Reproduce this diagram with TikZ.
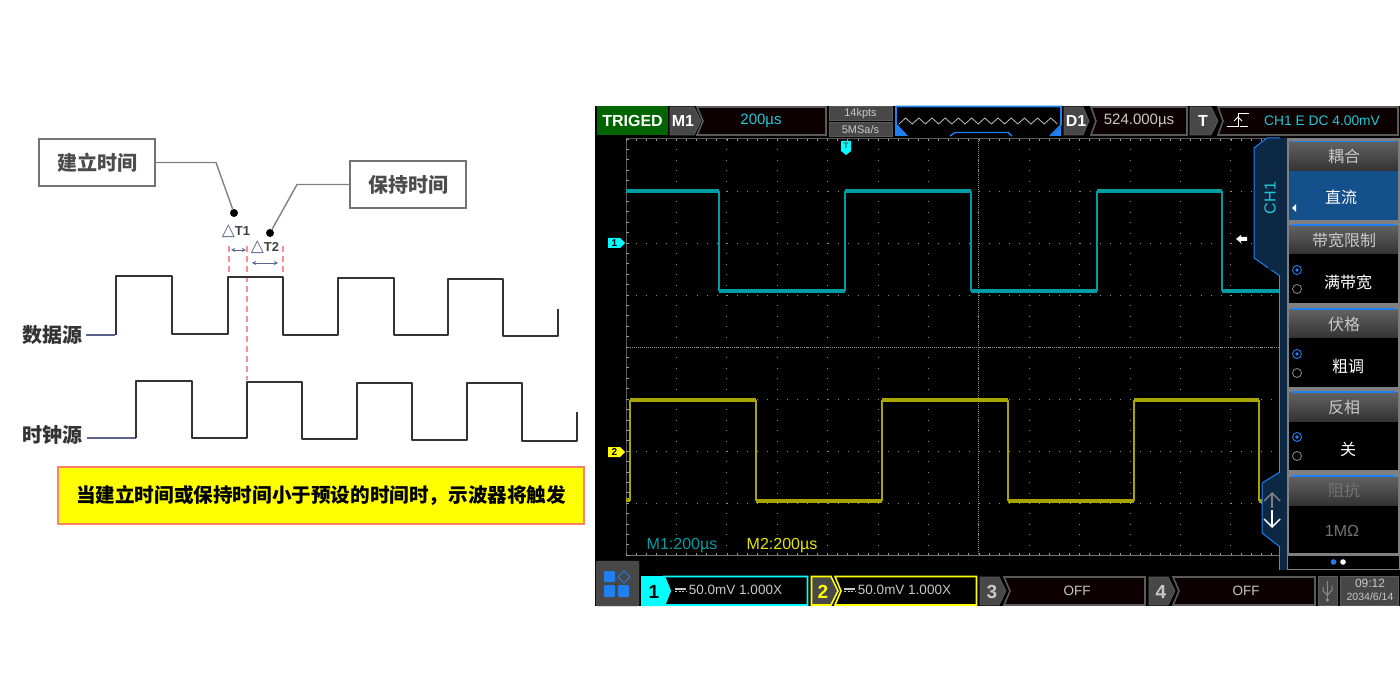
\documentclass[tikz,border=0pt]{standalone}
\usepackage{fontspec}
\setmainfont{Noto Sans CJK SC}
\newfontfamily\latinf{Liberation Sans}
\newfontfamily\symf{DejaVu Sans}
\definecolor{slateb}{HTML}{5A648C}
\definecolor{dashr}{HTML}{FF8C96}
\definecolor{trigg}{HTML}{006400}
\definecolor{tealw}{HTML}{009CA4}
\definecolor{olivew}{HTML}{A8A400}
\definecolor{cyant}{HTML}{20C8D8}
\definecolor{scrc}{HTML}{00FFFF}
\definecolor{scry}{HTML}{FFFF00}
\definecolor{scopeb}{HTML}{2080F0}
\definecolor{navyp}{HTML}{0C2844}
\definecolor{menub}{HTML}{14508C}
\definecolor{framegr}{HTML}{5A5A5A}
\definecolor{lightt}{HTML}{C8C8C8}
\definecolor{tabgr}{HTML}{484848}
\definecolor{noteb}{HTML}{FF8064}
\begin{document}
\begin{tikzpicture}[
        x=1pt, y=-1pt,
        every node/.style={inner sep=0pt, outer sep=0pt},
        lblbox/.style={draw=black!55, line width=1.3pt, fill=white, minimum width=116pt, minimum height=47pt, font=\fontsize{20}{22}\selectfont\bfseries, text=black!70},
        lbl/.style={font=\fontsize{20}{22}\selectfont\bfseries, text=black!80},
        callout/.style={draw=black!50, line width=1.4pt},
        blackdot/.style={circle, fill=black, minimum size=8pt},
        deltat/.style={font=\latinf\fontsize{13}{15}\selectfont\bfseries, text=black!75},
        wave/.style={draw=black!80, line width=1.9pt, line join=round},
        leadw/.style={draw=slateb, line width=1.9pt},
        reddash/.style={draw=dashr, line width=1.5pt, dash pattern=on 6pt off 4pt},
        spanarr/.style={draw=slateb, line width=.9pt, <->, >=stealth},
        gridd/.style={draw=white!55!black, line width=.7pt, dash pattern=on .8pt off 9.28pt},
        gridv/.style={draw=white!55!black, line width=.7pt, dash pattern=on .8pt off 9.6pt},
        tickm/.style={draw=white!60!black, line width=.6pt},
        flatw/.style={line width=3.6pt},
        edgew/.style={line width=1.3pt},
        tabn/.style={fill=tabgr, draw=framegr, line width=.8pt},
        valbox/.style={fill=black!95!red, draw=framegr, line width=1.6pt},
        stxt/.style={font=\latinf\fontsize{13.5}{16}\selectfont, text=lightt},
        ctxt/.style={font=\latinf\fontsize{15}{17}\selectfont, text=cyant},
        tabt/.style={font=\latinf\fontsize{16}{18}\selectfont\bfseries, text=white},
        mhead/.style={top color=black!62, bottom color=black!80, draw=none},
        mtxt/.style={font=\fontsize{16}{18}\selectfont, text=lightt},
        radon/.style={circle, draw=scopeb, line width=.9pt, minimum size=9pt},
        radoff/.style={circle, draw=black!50, line width=.9pt, minimum size=9pt},
    ]
    \useasboundingbox (0,0) rectangle (1400,700);
    \fill[white] (0,0) rectangle (1400,700);
    % left panel
    \node[lblbox](setupbox) at (97,162.5){建立时间};
    \node[lblbox](holdbox) at (408,184.5){保持时间};
    \node[blackdot](setupdot) at (234,213){};
    \node[blackdot](holddot) at (270,233){};
    \draw[callout] (setupbox.east) -- (216,162.5) -- (setupdot);
    \draw[callout] (holdbox.west) -- (297,184.5) -- (holddot);
    \node[deltat](t1lab) at (236,231){\textcolor{slateb}{\symf\fontsize{17}{18}\selectfont △}T1};
    \node[deltat](t2lab) at (265,247){\textcolor{slateb}{\symf\fontsize{17}{18}\selectfont △}T2};
    \draw[reddash] (229,246) -- (229,276);
    \draw[reddash] (247,246) -- (247,380);
    \draw[reddash] (283,246) -- (283,276);
    \coordinate (t1a) at (231,250);
    \coordinate (t1b) at (246,250);
    \coordinate (t2a) at (252,263);
    \coordinate (t2b) at (278,263);
    \draw[spanarr] (t1a) -- (t1b);
    \draw[spanarr] (t2a) -- (t2b);
    \node[lbl](datalab) at (52,335){数据源};
    \node[lbl](clklab) at (52,435){时钟源};
    \coordinate (datas) at (86,335);
    \coordinate (clks) at (87,438);
    \draw[leadw] (datas) -- (115,335);
    \draw[leadw] (clks) -- (136,438);
    \draw[wave] (116,335) -- (116,276) -- (172,276) -- (172,334) -- (228,334) -- (228,277) -- (283,277) -- (283,335) -- (338,335) -- (338,278) -- (394,278) -- (394,335) -- (448,335) -- (448,279) -- (503,279) -- (503,336) -- (558,336) -- (558,309);
    \draw[wave] (136,438) -- (136,381) -- (192,381) -- (192,438) -- (247,438) -- (247,382) -- (302,382) -- (302,439) -- (357,439) -- (357,383) -- (412,383) -- (412,440) -- (467,440) -- (467,383) -- (522,383) -- (522,441) -- (577,441) -- (577,412);
    \node[draw=noteb, line width=1.5pt, fill=scry, minimum width=526pt, minimum height=57pt, font=\fontsize{19.6}{22}\selectfont\bfseries, text=black](notebox) at (321,495.5){当建立时间或保持时间小于预设的时间时，示波器将触发};
    % scope screen
    \fill[black] (595,106) rectangle (1400,606);
    \foreach \k in {1,...,12}{
        \draw[gridv] (626+50.4*\k,139) -- (626+50.4*\k,555);
    }
    \foreach \k in {1,...,7}{
        \draw[gridd] (626,139+52*\k) -- (1280,139+52*\k);
    }
    \draw[draw=black!45, line width=.8pt, dash pattern=on 1pt off 1pt] (626,347) -- (1280,347);
    \draw[draw=black!45, line width=.8pt, dash pattern=on 1pt off 1pt] (978,139) -- (978,555);
    \draw[framegr, line width=1pt] (626,555) -- (626,139) -- (1280,139);
    \draw[black!55, line width=1pt] (626,555) -- (1280,555);
    \foreach \k in {0,...,64}{
        \draw[tickm] (626+10.08*\k,139) -- (626+10.08*\k,141.5);
        \draw[tickm] (626+10.08*\k,555) -- (626+10.08*\k,552.5);
    }
    \foreach \k in {0,...,40}{
        \draw[tickm] (626,139+10.4*\k) -- (628.5,139+10.4*\k);
    }
    % channel traces
    \foreach \xa/\xb/\ya in {626/719/191,845/971/191,1097/1222/191,719/845/291,971/1097/291,1222/1280/291}{
        \draw[tealw, flatw] (\xa,\ya) -- (\xb,\ya);
    }
    \foreach \xa in {719,845,971,1097,1222}{
        \draw[tealw, edgew] (\xa,191) -- (\xa,291);
    }
    \foreach \xa/\xb/\ya in {630/756/400,882/1008/400,1134/1259/400,626/630/500,756/882/501,1008/1134/501,1259/1262/501}{
        \draw[olivew, flatw] (\xa,\ya) -- (\xb,\ya);
    }
    \foreach \xa in {630,756,882,1008,1134,1259}{
        \draw[olivew, edgew] (\xa,400) -- (\xa,501);
    }
    \fill[scrc] (608,238) -- (620,238) -- (625,243) -- (620,248) -- (608,248) -- cycle;
    \node[font=\latinf\fontsize{10}{11}\selectfont\bfseries, text=black](mark1) at (614.5,243){1};
    \fill[scry] (608,447) -- (620,447) -- (625,452) -- (620,457) -- (608,457) -- cycle;
    \node[font=\latinf\fontsize{10}{11}\selectfont\bfseries, text=black](mark2) at (614.5,452){2};
    \fill[scrc] (841,141) -- (851,141) -- (851,151) -- (846,155) -- (841,151) -- cycle;
    \node[font=\latinf\fontsize{8}{9}\selectfont\bfseries, text=black!70](markt) at (846,146){T};
    \fill[white] (1236,239) -- (1241,235) -- (1241,237) -- (1247,237) -- (1247,241) -- (1241,241) -- (1241,243) -- cycle;
    \node[font=\latinf\fontsize{16}{18}\selectfont, text=tealw](m1lab) at (682,546){M1:200µs};
    \node[font=\latinf\fontsize{16}{18}\selectfont, text=scry!90!black](m2lab) at (782,546){M2:200µs};
    % top bar
    \fill[trigg] (597,106) rectangle (668,135);
    \node[tabt](trigtxt) at (632.5,121){TRIGED};
    \draw[valbox] (697,107) -- (826,107) -- (826,135) -- (697,135) -- (703,121) -- cycle;
    \draw[tabn] (670,107) -- (694,107) -- (701,121) -- (694,135) -- (670,135) -- cycle;
    \node[tabt](m1tab) at (683,121){M1};
    \node[ctxt](m1val) at (761,121){200µs};
    \draw[tabn] (829,106) rectangle (892,120);
    \draw[tabn] (829,122) rectangle (892,136);
    \node[font=\latinf\fontsize{11}{12}\selectfont, text=lightt](ptstxt) at (860.5,113.5){14kpts};
    \node[font=\latinf\fontsize{11}{12}\selectfont, text=lightt](ratetxt) at (860.5,129.5){5MSa/s};
    \draw[scopeb, line width=1.6pt] (896,136) -- (896,106.5) -- (1061,106.5) -- (1061,125) -- (1050,136);
    \fill[scopeb] (1061,126) -- (1061,136) -- (1051,136) -- cycle;
    \fill[scopeb] (897,124) -- (897,136) -- (908,136) -- cycle;
    \draw[scopeb, line width=1.4pt] (950,136) -- (955,132.5) -- (1008,132.5) -- (1012,136);
    \draw[black!25, line width=.8pt] (899,124) foreach \k in {1,...,12}{ -- ++(6.6,-6) -- ++(6.6,6)};
    \draw[tabn] (1064,107) -- (1083,107) -- (1089,121) -- (1083,135) -- (1064,135) -- cycle;
    \node[tabt](d1tab) at (1076,121){D1};
    \draw[valbox] (1091,107) -- (1187,107) -- (1187,135) -- (1091,135) -- (1096,121) -- cycle;
    \node[stxt, font=\latinf\fontsize{15}{17}\selectfont](d1val) at (1139,121){524.000µs};
    \draw[tabn] (1190,107) -- (1211,107) -- (1218,121) -- (1211,135) -- (1190,135) -- cycle;
    \node[tabt](ttab) at (1203,121){T};
    \draw[valbox] (1218,107) -- (1398,107) -- (1398,135) -- (1218,135) -- (1223,121) -- cycle;
    \draw[white, line width=.9pt] (1227,126) -- (1238,126) -- (1238,113) -- (1249,113);
    \draw[white, line width=.9pt] (1234,121) -- (1238,117) -- (1242,121);
    \draw[white, line width=.9pt] (1240,126) -- (1248,126);
    \node[ctxt, font=\latinf\fontsize{13.8}{16}\selectfont](trigval) at (1322,121){CH1 E DC 4.00mV};
    % side tabs and menu
    \fill[black!50] (1279,138) rectangle (1400,570);
    \fill[navyp] (1280,138) rectangle (1287,570);
    \filldraw[fill=navyp, draw=scopeb, line width=1pt] (1280,138) -- (1267,138) -- (1254,148) -- (1254,258) -- (1280,276);
    \fill[navyp] (1268,139) rectangle (1282,270);
    \node[font=\latinf\fontsize{16}{18}\selectfont, text=cyant, rotate=90](ch1tab) at (1270,198){CH1};
    \filldraw[fill=navyp, draw=scopeb, line width=1pt] (1280,472) -- (1262,483) -- (1262,533) -- (1280,547);
    \coordinate (upb) at (1272,508);
    \coordinate (upt) at (1272,493);
    \coordinate (dnt) at (1272,510);
    \coordinate (dnb) at (1272,527);
    \draw[black!50, line width=1.4pt] (upb) -- (upt);
    \draw[black!50, line width=1.4pt] (1264,501) -- (upt) -- (1280,501);
    \draw[white, line width=1.4pt] (dnt) -- (dnb);
    \draw[white, line width=1.4pt] (1264,519) -- (dnb) -- (1280,519);
    \foreach \yh/\name/\val/\rad in {225/带宽限制/满带宽/1,309/伏格/粗调/1,392/反相/关/1}{
        \fill[black] (1289,\yh+28) rectangle (1398,\yh+78);
        \path[mhead] (1289,\yh+1) rectangle (1398,\yh+29);
        \draw[scopeb, line width=1.2pt] (1292,\yh) -- (1395,\yh);
        \node[mtxt] at (1344,\yh+15){\name};
        \node[mtxt, text=white] at (1348,\yh+57){\val};
        \node[radon] at (1297,\yh+45){};
        \fill[scopeb] (1297,\yh+45) circle (1.8pt);
        \node[radoff] at (1297,\yh+64){};
    }
    \fill[menub] (1289,171) rectangle (1398,220);
    \path[mhead] (1289,142) rectangle (1398,171);
    \draw[scopeb, line width=1.2pt] (1292,141.5) -- (1395,141.5);
    \node[mtxt](coupt) at (1344,156){耦合};
    \node[mtxt, text=white](dcval) at (1341,197){直流};
    \fill[white] (1292,208) -- (1296,204) -- (1296,212) -- cycle;
    \fill[black] (1289,504) rectangle (1398,553);
    \path[mhead] (1289,477) rectangle (1398,505);
    \draw[scopeb, line width=1.2pt] (1292,476) -- (1395,476);
    \node[mtxt, text=black!55](zlab) at (1344,490){阻抗};
    \node[font=\latinf\fontsize{16}{18}\selectfont, text=black!55](zval) at (1342,531){1MΩ};
    \fill[black] (1288,556) rectangle (1399,569);
    \fill[scopeb] (1333.5,562) circle (2.8pt);
    \fill[white] (1343,562) circle (2.8pt);
    % bottom bar
    \filldraw[fill=black!72, draw=black!60, rounded corners=2pt] (596,561) rectangle (639,606);
    \fill[scopeb, rounded corners=1pt] (604,571) rectangle (615,582);
    \fill[scopeb, rounded corners=1pt] (604,585) rectangle (615,597);
    \fill[scopeb, rounded corners=1pt] (618,585) rectangle (629,597);
    \draw[scopeb, line width=.9pt] (624,571) -- (630,577) -- (624,583) -- (618,577) -- cycle;
    \draw[scrc, fill=black, line width=1.6pt] (664,576.5) -- (807.5,576.5) -- (807.5,605) -- (664,605) -- (670,591) -- cycle;
    \fill[scrc] (641,576) -- (665,576) -- (671,591) -- (665,606) -- (641,606) -- cycle;
    \node[font=\latinf\fontsize{19}{21}\selectfont\bfseries, text=black](ch1n) at (654,591.5){1};
    \draw[scry, fill=black, line width=1.6pt] (835,576.5) -- (976.5,576.5) -- (976.5,605) -- (835,605) -- (841,591) -- cycle;
    \draw[scry, fill=tabgr, line width=1.6pt] (811.5,576.5) -- (831,576.5) -- (838,591) -- (831,605) -- (811.5,605) -- cycle;
    \node[font=\latinf\fontsize{19}{21}\selectfont\bfseries, text=scry](ch2n) at (823,591.5){2};
    \foreach \xa/\xb/\num in {980/1145/3,1149/1315/4}{
        \draw[valbox] (\xa+24,577) -- (\xb,577) -- (\xb,605) -- (\xa+24,605) -- (\xa+30,591) -- cycle;
        \draw[tabn] (\xa,577) -- (\xa+19,577) -- (\xa+26,591) -- (\xa+19,605) -- (\xa,605) -- cycle;
        \node[font=\latinf\fontsize{19}{21}\selectfont\bfseries, text=lightt] at (\xa+12,591.5){\num};
        \node[stxt] at (\xa+97,591){OFF};
    }
    \foreach \xa in {675,844}{
        \draw[lightt, line width=1.2pt] (\xa,589) -- (\xa+11,589);
        \draw[lightt, line width=.9pt, dash pattern=on 2.4pt off 1.1pt] (\xa,591.5) -- (\xa+11,591.5);
    }
    \node[stxt](ch1val) at (735.5,590){50.0mV 1.000X};
    \node[stxt](ch2val) at (904.5,590){50.0mV 1.000X};
    \filldraw[fill=black!72, draw=framegr, line width=1pt] (1318,576) rectangle (1337,605);
    \draw[black!45, line width=1pt] (1327.5,581) -- (1327.5,600);
    \draw[black!45, line width=1pt] (1323,587) -- (1323,591) -- (1327.5,595) -- (1332,590) -- (1332,586);
    \fill[black!45] (1327.5,600) circle (1.8pt);
    \filldraw[fill=black!72, draw=framegr, line width=1pt] (1340,576) rectangle (1398,605);
    \node[font=\latinf\fontsize{12}{13}\selectfont, text=lightt](clktxt) at (1370,583){09:12};
    \node[font=\latinf\fontsize{10.5}{12}\selectfont, text=lightt](datetxt) at (1370,597){2034/6/14};
\end{tikzpicture}
\end{document}
